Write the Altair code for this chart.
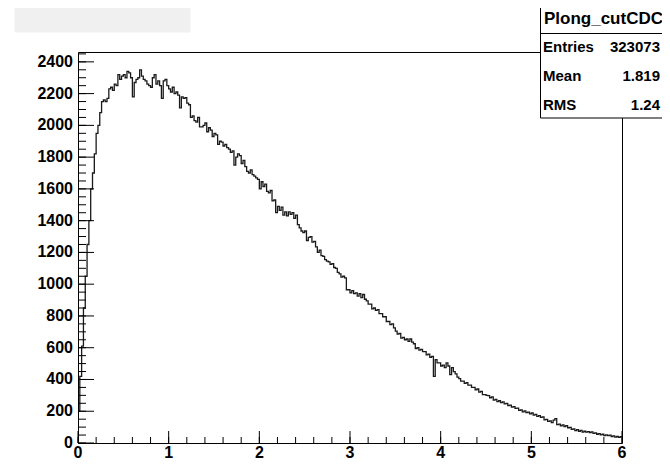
import altair as alt
import pandas as pd

# ---- data (histogram Plong_cutCDC, 300 bins on [0, 6]) ----
x_min = 0.0
x_max = 6.0
bin_width = 0.02
counts = [
    200, 420, 610, 850, 1050, 1250, 1400, 1600, 1700, 1820,
    1950, 2000, 2080, 2150, 2160, 2150, 2170, 2230, 2240, 2220,
    2260, 2250, 2320, 2290, 2310, 2320, 2300, 2340, 2330, 2300,
    2180, 2270, 2290, 2300, 2350, 2310, 2290, 2280, 2260, 2250,
    2240, 2300, 2320, 2260, 2280, 2250, 2170, 2280, 2290, 2250,
    2230, 2210, 2240, 2200, 2210, 2190, 2110, 2180, 2170, 2175,
    2140, 2130, 2050, 2060, 2030, 2020, 2050, 1990, 1990, 2000,
    2015, 1960, 1985, 1970, 1930, 1950, 1940, 1880, 1900, 1895,
    1870, 1880, 1860, 1850, 1830, 1840, 1750, 1800, 1820, 1810,
    1760, 1780, 1740, 1710, 1700, 1720, 1690, 1680, 1670, 1660,
    1600, 1645, 1615, 1630, 1585, 1575, 1590, 1525, 1530, 1450,
    1490, 1465, 1485, 1435, 1455, 1430, 1455, 1440, 1450, 1415,
    1435, 1375, 1355, 1335, 1325, 1335, 1275, 1295, 1300, 1265,
    1270, 1235, 1200, 1215, 1180, 1175, 1155, 1145, 1140, 1125,
    1130, 1105, 1100, 1075, 1065, 1045, 1050, 1040, 965, 965,
    945, 960, 940, 945, 925, 940, 915, 935, 905, 895,
    875, 875, 845, 850, 835, 840, 815, 815, 795, 795,
    765, 765, 745, 750, 725, 705, 685, 690, 660, 665,
    650, 655, 640, 655, 635, 625, 595, 600, 585, 590,
    575, 575, 555, 560, 540, 545, 420, 525, 505, 505,
    485, 490, 475, 505, 485, 430, 475, 450, 435, 415,
    405, 390, 390, 375, 380, 365, 365, 350, 350, 335,
    340, 320, 325, 305, 305, 300, 298, 285, 290, 270,
    275, 260, 266, 254, 259, 246, 249, 236, 239, 226,
    229, 218, 219, 206, 209, 196, 202, 191, 194, 184,
    189, 176, 180, 168, 172, 161, 164, 146, 149, 136,
    139, 128, 144, 154, 116, 119, 108, 114, 104, 109,
    96, 99, 86, 89, 78, 84, 74, 79, 68, 74,
    68, 72, 66, 70, 60, 64, 55, 59, 51, 55,
    47, 51, 46, 50, 41, 45, 37, 41, 36, 40,
]

y_max = 2462
x_major = [0, 1, 2, 3, 4, 5, 6]
x_minor = [round(i * 0.2, 1) for i in range(31)]
y_major = list(range(0, 2401, 200))
y_minor = list(range(0, 2451, 50))

stats_title = "Plong_cutCDC"
stats_labels = ["Entries", "Mean", "RMS"]
stats_values = ["323073", "1.819", "1.24"]

# ---- build tables ----
edges = [round(x_min + i * bin_width, 4) for i in range(len(counts) + 1)]
hist = pd.DataFrame({"x": edges, "y": counts + [counts[-1]]})

W, H = 544, 391
FONT = "Liberation Sans"

xs = alt.Scale(domain=[x_min, x_max], nice=False, zero=False)
ys = alt.Scale(domain=[0, y_max], nice=False)

line = alt.Chart(hist).mark_line(
    interpolate="step-after", color="#1a1a1a", strokeWidth=1.3, clip=True
).encode(
    x=alt.X("x:Q", scale=xs, axis=None),
    y=alt.Y("y:Q", scale=ys, axis=None),
)

ymaj = alt.Chart(pd.DataFrame({"v": y_major})).mark_rule(color="#000", strokeWidth=1).encode(
    y=alt.Y("v:Q", scale=ys, axis=None), x=alt.value(0), x2=alt.value(16))
ymin = alt.Chart(pd.DataFrame({"v": y_minor})).mark_rule(color="#000", strokeWidth=1).encode(
    y=alt.Y("v:Q", scale=ys, axis=None), x=alt.value(0), x2=alt.value(8))
xmaj = alt.Chart(pd.DataFrame({"v": x_major})).mark_rule(color="#000", strokeWidth=1).encode(
    x=alt.X("v:Q", scale=xs, axis=None), y=alt.value(H), y2=alt.value(H - 12))
xmin = alt.Chart(pd.DataFrame({"v": x_minor})).mark_rule(color="#000", strokeWidth=1).encode(
    x=alt.X("v:Q", scale=xs, axis=None), y=alt.value(H), y2=alt.value(H - 6))

ylab = alt.Chart(pd.DataFrame({"v": y_major})).mark_text(
    align="right", baseline="middle", font=FONT, fontSize=16, fontWeight="bold", color="#000"
).encode(y=alt.Y("v:Q", scale=ys, axis=None), x=alt.value(-5), text=alt.Text("v:Q", format="d"))
xlab = alt.Chart(pd.DataFrame({"v": x_major})).mark_text(
    align="center", baseline="middle", font=FONT, fontSize=16, fontWeight="bold", color="#000"
).encode(x=alt.X("v:Q", scale=xs, axis=None), y=alt.value(H + 10), text=alt.Text("v:Q", format="d"))

one = pd.DataFrame({"k": [0]})

title_box = alt.Chart(one).mark_rect(fill="#f0f0f0", stroke="#f0f0f0").encode(
    x=alt.value(-63), x2=alt.value(112), y=alt.value(-48), y2=alt.value(-20))

stats_box = alt.Chart(one).mark_rect(fill="#ffffff", stroke="#000", strokeWidth=1).encode(
    x=alt.value(462.5), x2=alt.value(640), y=alt.value(-47.5), y2=alt.value(66))
sep = alt.Chart(one).mark_rule(color="#000", strokeWidth=1).encode(
    x=alt.value(462.5), x2=alt.value(640), y=alt.value(-18.5))

row_y = [-5, 24, 53]
texts = [
    alt.Chart(one).mark_text(align="left", baseline="middle", font=FONT, fontSize=17,
                             fontWeight="bold", color="#000").encode(
        x=alt.value(466), y=alt.value(-33), text=alt.value(stats_title))
]
for lab, val, yy in zip(stats_labels, stats_values, row_y):
    texts.append(alt.Chart(one).mark_text(align="left", baseline="middle", font=FONT, fontSize=15,
                                          fontWeight="bold", color="#000").encode(
        x=alt.value(465), y=alt.value(yy), text=alt.value(lab)))
    texts.append(alt.Chart(one).mark_text(align="right", baseline="middle", font=FONT, fontSize=15,
                                          fontWeight="bold", color="#000").encode(
        x=alt.value(582), y=alt.value(yy), text=alt.value(val)))

chart = alt.layer(line, ymin, ymaj, xmin, xmaj, ylab, xlab, title_box, stats_box, sep, *texts).properties(
    width=W, height=H,
    autosize=alt.AutoSizeParams(type="none"),
    padding={"left": 70, "top": 44, "right": 40, "bottom": 21},
    background="#ffffff",
).configure_view(stroke="#000", strokeWidth=1)

chart.save("out.html", embed_options={"renderer": "svg", "actions": False})
